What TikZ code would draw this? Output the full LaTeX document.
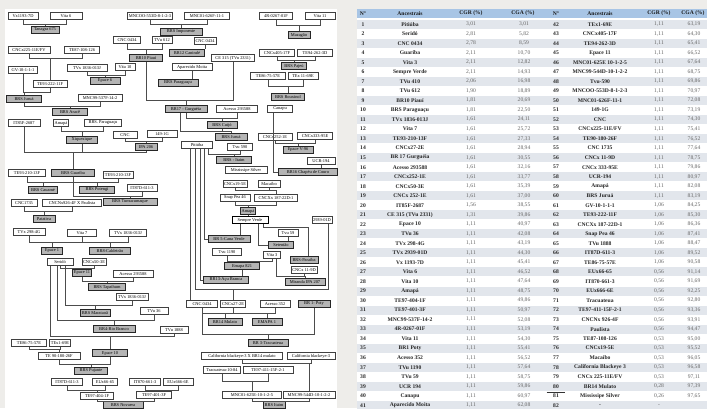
\documentclass[tikz,border=0pt]{standalone}
\usepackage{fontspec}
\setmainfont{Liberation Serif}
\usetikzlibrary{calc}
\definecolor{pagebg}{HTML}{EEEDEA}
\definecolor{hdrblue}{HTML}{A8C5E5}
\definecolor{rowshade}{HTML}{E2E6EC}
\definecolor{graybox}{HTML}{B4B4B4}
\newcommand\famline[4]{%
  \coordinate (bus) at (0,#4);
  \draw[ln] (#1.south) -- (#1.south|-bus) -- (#2.south|-bus) -- (#2.south);
  \draw[ln] (#1.south|-bus) -- (#3.north|-bus) -- (#3.north);}
\newcommand\rowL[6]{%
  \node[tn] (lN#1) at (363,{24.3+(#1-1)*9.525}) {#2};
  \node[tn] (lA#1) at (410,{24.3+(#1-1)*9.525}) {#3};
  \node[tv] (lC#1) at (471,{24.3+(#1-1)*9.525}) {#4};
  \node[tv] (lG#1) at (524,{24.3+(#1-1)*9.525}) {#5};}
\newcommand\rowR[6]{%
  \node[tn] (rN#1) at (556,{24.3+(#1-1)*9.525}) {#2};
  \node[tn] (rA#1) at (600,{24.3+(#1-1)*9.525}) {#3};
  \node[tv] (rC#1) at (659,{24.3+(#1-1)*9.525}) {#4};
  \node[tv] (rG#1) at (694,{24.3+(#1-1)*9.525}) {#5};}
\begin{document}
\begin{tikzpicture}[x=1pt,y=-1pt,
  wb/.style={draw=black!75,line width=0.35pt,fill=white,font=\fontsize{4.4}{5}\selectfont,inner sep=1.2pt,minimum height=7pt},
  gb/.style={wb,fill=graybox,draw=black!85},
  ln/.style={draw=black!70,line width=0.4pt},
  th/.style={font=\fontsize{5.6}{6}\selectfont\bfseries,text=black!90},
  tn/.style={font=\fontsize{5.6}{6}\selectfont\bfseries,text=black!85},
  tv/.style={font=\fontsize{5.6}{6}\selectfont,text=black!60}]
\useasboundingbox (0,0) rectangle (707,408);
\fill[pagebg] (0,0) rectangle (707,408);
\fill[white] (5,9) rectangle (337,408);
\fill[white] (357,9) rectangle (707,408);
\fill[hdrblue] (357,9) rectangle (707,17.6);
\foreach \i in {1,3,...,41} \fill[rowshade] (357,{24.3+(\i-1)*9.525-4.5}) rectangle (707,{24.3+(\i-1)*9.525+4.5});
% ---------- table header
\node[th] (hN1) at (363,13.3) {N°};
\node[th] (hA1) at (410,13.3) {Ancestrais};
\node[th] (hC1) at (471,13.3) {CGR (\%)};
\node[th] (hG1) at (523,13.3) {CGA (\%)};
\node[th] (hN2) at (556,13.3) {N°};
\node[th] (hA2) at (600,13.3) {Ancestrais};
\node[th] (hC2) at (659,13.3) {CGR (\%)};
\node[th] (hG2) at (693,13.3) {CGA (\%)};
% ---------- table rows
\rowL{1}{1}{Pitiúba}{3,01}{3,01}{}
\rowL{2}{2}{Seridó}{2,81}{5,82}{}
\rowL{3}{3}{CNC 0434}{2,78}{8,59}{}
\rowL{4}{4}{Guariba}{2,11}{10,70}{}
\rowL{5}{5}{Vita 3}{2,11}{12,82}{}
\rowL{6}{6}{Sempre Verde}{2,11}{14,93}{}
\rowL{7}{7}{TVu 410}{2,06}{16,98}{}
\rowL{8}{8}{TVu 612}{1,90}{18,89}{}
\rowL{9}{9}{BR10 Piauí}{1,81}{20,69}{}
\rowL{10}{10}{BRS Paraguaçu}{1,81}{22,50}{}
\rowL{11}{11}{TVx 1836-013J}{1,61}{24,11}{}
\rowL{12}{12}{Vita 7}{1,61}{25,72}{}
\rowL{13}{13}{TE93-210-13F}{1,61}{27,33}{}
\rowL{14}{14}{CNCx27-2E}{1,61}{28,94}{}
\rowL{15}{15}{BR 17 Gurguéia}{1,61}{30,55}{}
\rowL{16}{16}{Acesso 293588}{1,61}{32,16}{}
\rowL{17}{17}{CNCx252-1E}{1,61}{33,77}{}
\rowL{18}{18}{CNCx50-3E}{1,61}{35,39}{}
\rowL{19}{19}{CNCx 252-1E}{1,61}{37,00}{}
\rowL{20}{20}{IT85F-2687}{1,56}{38,55}{}
\rowL{21}{21}{CE 315 (TVu 2331)}{1,31}{39,86}{}
\rowL{22}{22}{Epace 10}{1,11}{40,97}{}
\rowL{23}{23}{TVu 36}{1,11}{42,08}{}
\rowL{24}{24}{TVx 298-4G}{1,11}{43,19}{}
\rowL{25}{25}{TVx 2939-01D}{1,11}{44,30}{}
\rowL{26}{26}{Vx 1193-7D}{1,11}{45,41}{}
\rowL{27}{27}{Vita 6}{1,11}{46,52}{}
\rowL{28}{28}{Vita 10}{1,11}{47,64}{}
\rowL{29}{29}{Amapá}{1,11}{48,75}{}
\rowL{30}{30}{TE97-404-1F}{1,11}{49,86}{}
\rowL{31}{31}{TE97-401-3F}{1,11}{50,97}{}
\rowL{32}{32}{MNC99-537F-14-2}{1,11}{52,08}{}
\rowL{33}{33}{4R-0267-01F}{1,11}{53,19}{}
\rowL{34}{34}{Vita 11}{1,11}{54,30}{}
\rowL{35}{35}{BR1 Poty}{1,11}{55,41}{}
\rowL{36}{36}{Acesso 352}{1,11}{56,52}{}
\rowL{37}{37}{TVu 1190}{1,11}{57,64}{}
\rowL{38}{38}{TVu 59}{1,11}{58,75}{}
\rowL{39}{39}{UCR 194}{1,11}{59,86}{}
\rowL{40}{40}{Canapu}{1,11}{60,97}{}
\rowL{41}{41}{Aparecido Moita}{1,11}{62,08}{}
\rowR{1}{42}{TEx1-69E}{1,11}{63,19}{}
\rowR{2}{43}{CNCx405-17F}{1,11}{64,30}{}
\rowR{3}{44}{TE94-262-3D}{1,11}{65,41}{}
\rowR{4}{45}{Epace 11}{1,11}{66,52}{}
\rowR{5}{46}{MNC01-625E 10-1-2-5}{1,11}{67,64}{}
\rowR{6}{47}{MNC99-544D-10-1-2-2}{1,11}{68,75}{}
\rowR{7}{48}{Tvu-590}{1,11}{69,86}{}
\rowR{8}{49}{MNCOO-553D-8-1-2-3}{1,11}{70,97}{}
\rowR{9}{50}{MNC01-626F-11-1}{1,11}{72,08}{}
\rowR{10}{51}{149-1G}{1,11}{73,19}{}
\rowR{11}{52}{CNC}{1,11}{74,30}{}
\rowR{12}{53}{CNCx225-11E/FV}{1,11}{75,41}{}
\rowR{13}{54}{TE90-180-26F}{1,11}{76,52}{}
\rowR{14}{55}{CNC 1735}{1,11}{77,64}{}
\rowR{15}{56}{CNCx 11-9D}{1,11}{78,75}{}
\rowR{16}{57}{CNCx 333-95E}{1,11}{79,86}{}
\rowR{17}{58}{UCR-194}{1,11}{80,97}{}
\rowR{18}{59}{Amapá}{1,11}{82,08}{}
\rowR{19}{60}{BRS Juruá}{1,11}{83,19}{}
\rowR{20}{61}{GV-10-1-1-1}{1,06}{84,25}{}
\rowR{21}{62}{TE93-222-11F}{1,06}{85,30}{}
\rowR{22}{63}{CNCXx 187-22D-1}{1,06}{86,36}{}
\rowR{23}{64}{Snap Pea 46}{1,06}{87,41}{}
\rowR{24}{65}{TVu 1888}{1,06}{88,47}{}
\rowR{25}{66}{IT87D-611-3}{1,06}{89,52}{}
\rowR{26}{67}{TE86-75-57E}{1,06}{90,58}{}
\rowR{27}{68}{EUx66-65}{0,56}{91,14}{}
\rowR{28}{69}{IT870-661-3}{0,56}{91,69}{}
\rowR{29}{70}{EUx666-6E}{0,56}{92,25}{}
\rowR{30}{71}{Tracuateua}{0,56}{92,80}{}
\rowR{31}{72}{TE97-411-15F-2-1}{0,56}{93,36}{}
\rowR{32}{73}{CNCNx 926-4F}{0,56}{93,91}{}
\rowR{33}{74}{Paulista}{0,56}{94,47}{}
\rowR{34}{75}{TE87-108-126}{0,53}{95,00}{}
\rowR{35}{76}{CNCx19-5E}{0,53}{95,52}{}
\rowR{36}{77}{Macaíbo}{0,53}{96,05}{}
\rowR{37}{78}{California Blackeye 3}{0,53}{96,58}{}
\rowR{38}{79}{CNCx 225-11E/FV}{0,53}{97,11}{}
\rowR{39}{80}{BR14 Mulato}{0,28}{97,39}{}
\rowR{40}{81}{Mississipe Silver}{0,26}{97,65}{}
\rowR{41}{82}{-}{-}{}{}
\draw[black!80,line width=0.5pt] (rN39.south west) ++(-3,0.5) coordinate (u1) -- ($(rN39.south east)+(3,0.5)$) coordinate (u2);
% ---------- tree nodes
\node[wb,minimum width=30pt] (vx1193) at (23,16) {Vx1193-7D};
\node[wb,minimum width=32pt] (vita6) at (66,16) {Vita 6};
\node[gb,minimum width=28pt] (g675) at (45,30) {Tanagra 675};
\node[wb,minimum width=44pt] (mncoo) at (150,16) {MNCOO-553D-8-1-2-3};
\node[wb,minimum width=45pt] (mnc626) at (207,16) {MNC01-626F-11-1};
\node[gb,minimum width=42pt] (impon) at (181,32) {BRS Imponente};
\node[wb,minimum width=27pt] (cncA) at (127,40) {CNC 0434};
\node[wb,minimum width=20pt] (tvu612) at (162,40) {TVu 612};
\node[wb,minimum width=22pt] (cncB) at (205,41) {CNC 0434};
\node[gb,minimum width=33pt] (br10) at (146,58) {BR10 Piauí};
\node[gb,minimum width=35pt] (br12) at (187,53) {BR12 Canindé};
\node[wb,minimum width=43pt] (ce315) at (233,58) {CE 315 (TVu 2331)};
\node[wb,minimum width=40pt] (moita) at (192,67) {Aparecido Moita};
\node[gb,minimum width=40pt] (paragA) at (178,83) {BRS Paraguaçu};
\node[wb,minimum width=33pt] (r4) at (276,16) {4R-0267-01F};
\node[wb,minimum width=30pt] (vita11) at (320,16) {Vita 11};
\node[gb,minimum width=22pt] (mazag) at (299,35) {Mazagão};
\node[wb,minimum width=35pt] (cncx405) at (277,53) {CNCx405-17F};
\node[wb,minimum width=35pt] (te94) at (315,53) {TE94-262-3D};
\node[gb,minimum width=25pt] (pajeu) at (294,66) {BRS Pajeú};
\node[wb,minimum width=35pt] (te86a) at (268,76) {TE86-75-57E};
\node[wb,minimum width=30pt] (tex1a) at (303,76) {TEx 11-69E};
\node[gb,minimum width=33pt] (roux) at (288,97) {BRS Rouxinol};
\node[wb,minimum width=42pt] (cncx225) at (29,50) {CNCx225-11E/FV};
\node[wb,minimum width=35pt] (te87) at (82,50) {TE87-108-126};
\node[wb,minimum width=40pt] (tvxA) at (87,68) {TVx 1836-013J};
\node[wb,minimum width=20pt] (vita10) at (125,67) {Vita 10};
\node[gb,minimum width=30pt] (epace6) at (105,81) {Epace 6};
\node[wb,minimum width=29pt] (gv10) at (23,70) {GV-10-1-1-1};
\node[wb,minimum width=34pt] (te93222) at (50,84) {TE93-222-11F};
\node[gb,minimum width=35pt] (jurua) at (24,99) {BRS Juruá};
\node[wb,minimum width=44pt] (mnc537) at (100,98) {MNC99-537F-14-2};
\node[gb,minimum width=35pt] (araca) at (70,112) {BRS Aracê};
\node[wb,minimum width=32pt] (it85f) at (24,123) {IT85F-2687};
\node[wb,minimum width=15pt] (amapaA) at (61,123) {Amapá};
\node[wb,minimum width=37pt] (paragB) at (103,123) {BRS. Paraguaçu};
\node[gb,minimum width=31pt] (xique) at (82,140) {Xiquexique};
\node[wb,minimum width=24pt] (cnc) at (125,135) {CNC};
\node[wb,minimum width=30pt] (g149) at (162,134) {149-1G};
\node[gb,minimum width=22pt] (ipa206) at (146,147) {IPA 206};
\node[wb,minimum width=37pt] (te210a) at (27,173) {TE93-210-13F};
\node[gb,minimum width=43pt] (guariba) at (73,173) {BRS Guariba};
\node[wb,minimum width=30pt] (te210b) at (118,175) {TE93-210-13F};
\node[gb,minimum width=29pt] (cauame) at (43,190) {BRS Cauamé};
\node[gb,minimum width=35pt] (potengi) at (97,190) {BRS Potengi};
\node[wb,minimum width=30pt] (it87dA) at (142,188) {IT87D-611-3};
\node[wb,minimum width=26pt] (cnc1735) at (24,203) {CNC1735};
\node[wb,minimum width=59pt] (cnc926) at (72,203) {CNCNx926-4F X Paulista};
\node[gb,minimum width=54pt] (tumuc) at (130,202) {BRS Tumucumaque};
\node[gb,minimum width=22pt] (pujA) at (44,219) {Patativa};
\node[wb,minimum width=32pt] (tvx298) at (29,232) {TVx 298-4G};
\node[wb,minimum width=29pt] (vita7) at (82,233) {Vita 7};
\node[wb,minimum width=37pt] (tvxB) at (128,233) {TVx 1836-013J};
\node[gb,minimum width=21pt] (epace1) at (52,251) {Epace 1};
\node[gb,minimum width=41pt] (caldeir) at (110,251) {BR8-Caldeirão};
\node[wb,minimum width=26pt] (serido) at (60,262) {Seridó};
\node[wb,minimum width=22pt] (cncx50) at (94,262) {CNCx50-3E};
\node[gb,minimum width=19pt] (epace11) at (82,273) {Epace 11};
\node[wb,minimum width=40pt] (acessoB) at (133,274) {Acesso 293588};
\node[gb,minimum width=37pt] (tapai) at (107,287) {BRS Tapaihum};
\node[wb,minimum width=32pt] (tvxC) at (132,297) {TVx 1836-013J};
\node[gb,minimum width=30pt] (marat) at (95,313) {BRS Marataoã};
\node[wb,minimum width=28pt] (tvu36) at (154,311) {TVu 36};
\node[gb,minimum width=42pt] (riob) at (114,329) {BR4-Rio Branco};
\node[wb,minimum width=28pt] (tvu1888) at (174,330) {TVu 1888};
\node[wb,minimum width=35pt] (te86b) at (29,343) {TE86-75-57E};
\node[wb,minimum width=20pt] (tex1b) at (60,343) {TEx1-69E};
\node[gb,minimum width=35pt] (epace10) at (110,353) {Epace 10};
\node[wb,minimum width=42pt] (te90) at (59,356) {TE 90-180-26F};
\node[gb,minimum width=33pt] (pujante) at (91,371) {BRS Pujante};
\node[wb,minimum width=31pt] (it87dB) at (67,382) {IT87D-611-3};
\node[wb,minimum width=25pt] (eux66) at (105,382) {EUx66-65};
\node[wb,minimum width=31pt] (it870) at (145,382) {IT870-661-3};
\node[wb,minimum width=30pt] (eux666) at (178,382) {EUx666-6E};
\node[wb,minimum width=33pt] (te404) at (97,396) {TE97-404-1F};
\node[wb,minimum width=35pt] (te401) at (154,395) {TE97-401-3F};
\node[gb,minimum width=40pt] (novaera) at (123,405) {BRS Novaera};
\node[wb,minimum width=31pt] (cncC) at (202,304) {CNC 0434};
\node[wb,minimum width=25pt] (cncx27) at (233,304) {CNCx27-2E};
\node[wb,minimum width=30pt] (ac352) at (275,304) {Acesso 352};
\node[gb,minimum width=32pt] (poty) at (314,304) {BR 1- Poty};
\node[gb,minimum width=34pt] (br14) at (225,322) {BR14 Mulato};
\node[gb,minimum width=30pt] (emapa1) at (267,322) {EMAPA 1};
\node[gb,minimum width=40pt] (br3) at (268,343) {BR 3-Tracuateua};
\node[wb,minimum width=81pt] (calbx) at (242,356) {California blackeye-3 X BR14 mulato};
\node[wb,minimum width=48pt] (calb) at (311,356) {California blackeye-3};
\node[wb,minimum width=37pt] (tracua) at (222,370) {Tracuateua-10-84};
\node[wb,minimum width=50pt] (te411) at (268,370) {TE97-411-15F-2-1};
\node[wb,minimum width=59pt] (mnc625) at (252,395) {MNC01-625E-10-1-2-5};
\node[wb,minimum width=52pt] (mnc544) at (309,395) {MNC99-544D-10-1-2-2};
\node[gb,minimum width=22pt] (itaim) at (274,405) {BRS Itaim};
\node[gb] (amapaB) at (248,211) {Amapá};
\node[wb,minimum width=36pt,line width=0.7pt,draw=black] (sempre) at (250,220) {Sempre Verde};
\node[wb,minimum width=20pt] (tvx2939) at (322,220) {2939-01D};
\node[gb,minimum width=42pt] (br5) at (229,239) {BR 5-Cana Verde};
\node[wb,minimum width=20pt] (tvu59) at (288,233) {Tvu 59};
\node[gb,minimum width=25pt] (setent) at (281,245) {Setentão};
\node[wb,minimum width=29pt] (tvu1190) at (227,252) {Tvu 1190};
\node[wb,minimum width=17pt] (vita3) at (272,255) {Vita 3};
\node[gb,minimum width=28pt] (paraiba) at (304,260) {BRS-Paraíba};
\node[gb,minimum width=35pt] (emapa821) at (242,266) {Emapa 821};
\node[wb,minimum width=25pt] (cncx119) at (304,270) {CNCx 11-9D};
\node[gb,minimum width=45pt] (br13) at (226,280) {BR13-Açu Branca};
\node[gb,minimum width=40pt] (miranda) at (305,282) {Miranda IPA 207};
\node[gb,minimum width=42pt] (br17) at (186,109) {BR17 - Gurguéia};
\node[wb,minimum width=41pt] (acessoA) at (237,109) {Acesso 293588};
\node[wb,minimum width=25pt] (canapu) at (280,109) {Canapu};
\node[gb,minimum width=30pt] (cuijo) at (222,125) {BRS Cuijó};
\node[gb,minimum width=32pt] (juruaB) at (231,137) {BRS Juruá};
\node[wb,minimum width=34pt] (cncx252) at (275,137) {CNCx252-1E};
\node[wb,minimum width=35pt] (cncx333) at (315,136) {CNCx333-95E};
\node[wb,minimum width=31pt] (pitiuba) at (197,145) {Pitiúba};
\node[wb,minimum width=25pt] (tvu590) at (240,147) {Tvu 590};
\node[gb,minimum width=30pt] (epacev96) at (298,150) {Epace V-96};
\node[gb,minimum width=35pt] (brsx) at (234,160) {BRS - Itaim};
\node[wb,minimum width=28pt] (ucr194) at (321,161) {UCR-194};
\node[wb,minimum width=42pt] (miss) at (246,170) {Mississipe Silver};
\node[gb,minimum width=59pt] (br16) at (308,172) {BR16 Chapéu de Couro};
\node[wb,minimum width=24pt] (cncx19) at (235,184) {CNCx19-5E};
\node[wb,minimum width=22pt] (macaibo) at (269,184) {Macaíbo};
\node[wb,minimum width=30pt] (snap) at (235,198) {Snap Pea 46};
\node[wb,minimum width=43pt] (cncx187) at (276,198) {CNCXx 187-22D-1};
% ---------- tree connectors
\famline{vx1193}{vita6}{g675}{24}
\famline{mncoo}{mnc626}{impon}{24}
\famline{cncA}{tvu612}{br10}{49}
\draw[ln] (cncB.south) -- (br12.north-|cncB.south);
\draw[ln] (moita.south) -- (paragA.north-|moita.south);
\famline{cncx225}{te87}{te93222}{58}
\famline{tvxA}{vita10}{epace6}{75}
\famline{gv10}{te93222}{jurua}{92}
\famline{jurua}{mnc537}{araca}{106}
\famline{r4}{vita11}{mazag}{25}
\famline{cncx405}{te94}{pajeu}{60}
\famline{te86a}{tex1a}{roux}{86}
\famline{br10}{ce315}{br17}{100}
\famline{br17}{acessoA}{cuijo}{118}
\coordinate (gj) at (180,131);
\draw[ln] (br17.south-|gj) -- (gj) -- (juruaB.north|-gj) -- (juruaB.north);
\draw[ln] (cuijo.south) -- (cuijo.south|-gj);
\famline{amapaA}{paragB}{xique}{131}
\famline{cnc}{g149}{ipa206}{141}
\famline{it85f}{ipa206}{guariba}{152}
\draw[ln] (xique.south) -- (xique.south|-bus);
\famline{te210a}{guariba}{cauame}{182}
\famline{guariba}{te210b}{potengi}{182}
\famline{guariba}{it87dA}{tumuc}{196}
\famline{cnc1735}{cnc926}{pujA}{211}
\famline{tvx298}{vita7}{epace1}{242}
\famline{vita7}{tvxB}{caldeir}{242}
\famline{serido}{cncx50}{epace11}{268}
\famline{epace11}{acessoB}{tapai}{281}
% Serido descendants
\coordinate (sA) at (65,305);
\draw[ln] (serido.south-|sA) -- (sA) -- (tvxC.south|-sA) -- (tvxC.south);
\draw[ln] (marat.north|-sA) -- (marat.north);
\coordinate (sB) at (57,320);
\draw[ln] (serido.south-|sB) -- (sB) -- (tvu36.south|-sB) -- (tvu36.south);
\draw[ln] (riob.north|-sB) -- (riob.north);
\coordinate (sC) at (50,336);
\draw[ln] (serido.south-|sC) -- (sC) -- (tvu1888.south|-sC) -- (tvu1888.south);
\draw[ln] (epace10.north|-sC) -- (epace10.north);
\famline{te86b}{tex1b}{te90}{349}
\famline{te90}{epace10}{pujante}{364}
\famline{it87dB}{eux66}{te404}{390}
\famline{it870}{eux666}{te401}{390}
\famline{te404}{te401}{novaera}{401.5}
% bottom right family
\famline{cncC}{cncx27}{br14}{313}
\famline{cncx27}{ac352}{emapa1}{313}
\coordinate (cb) at (202,334);
\draw[ln] (cncC.south) -- (cb) -- (poty.south|-cb) -- (poty.south);
\draw[ln] (br3.north|-cb) -- (br3.north);
\famline{calbx}{calb}{mnc544}{363}
\famline{tracua}{te411}{mnc625}{381}
\famline{mnc625}{mnc544}{itaim}{401.5}
% Pitiuba descendants
\coordinate (pA) at (208,154);
\draw[ln] (pitiuba.south-|pA) -- (pA) -- (tvu590.south|-pA) -- (tvu590.south);
\draw[ln] (brsx.north|-pA) -- (brsx.north);
\coordinate (pB) at (204,239);
\draw[ln] (pitiuba.south-|pB) -- (pB) -- (br5.west);
\coordinate (pC) at (200,280);
\draw[ln] (pitiuba.south-|pC) -- (pC) -- (br13.west);
\coordinate (pD) at (195,289);
\coordinate (pE) at (328,289);
\draw[ln] (pitiuba.south-|pD) -- (pD) -- (pE) -- (tvx2939.south-|pE);
\draw[ln] (cncx27.north|-pD) -- (cncx27.north);
\coordinate (pF) at (190,300);
\draw[ln] (pitiuba.south-|pF) -- (pF);
\famline{cncx252}{cncx333}{epacev96}{143}
\coordinate (cn) at (273,172);
\draw[ln] (canapu.south-|cn) -- (cn) -- (br16.west);
\draw[ln] (ucr194.south) -- (br16.north-|ucr194.south);
\famline{cncx19}{macaibo}{cncx187}{190.5}
\famline{snap}{cncx187}{amapaB}{205}
\draw[ln] (amapaB.south) -- (sempre.north-|amapaB.south);
\coordinate (sv1) at (240,0);
\draw[ln] (sempre.south-|sv1) -- (br5.north-|sv1);
\coordinate (sv2) at (258,245);
\draw[ln] (sempre.south-|sv2) -- (sv2) -- (setent.west);
\draw[ln] (tvu59.south) -- (setent.north-|tvu59.south);
\coordinate (sv3) at (263,227.5);
\coordinate (sv4) at (308,227.5);
\draw[ln] (sempre.south-|sv3) -- (sv3) -- (sv4) -- (paraiba.north-|sv4);
\famline{tvu1190}{vita3}{emapa821}{260.7}
\draw[ln] (emapa821.south) -- (br13.north-|emapa821.south);
\coordinate (vm) at (276,276.3);
\draw[ln] (vita3.south-|vm) -- (vm) -- (cncx119.south|-vm) -- (cncx119.south);
\draw[ln] (miranda.north|-vm) -- (miranda.north);
\end{tikzpicture}
\end{document}
